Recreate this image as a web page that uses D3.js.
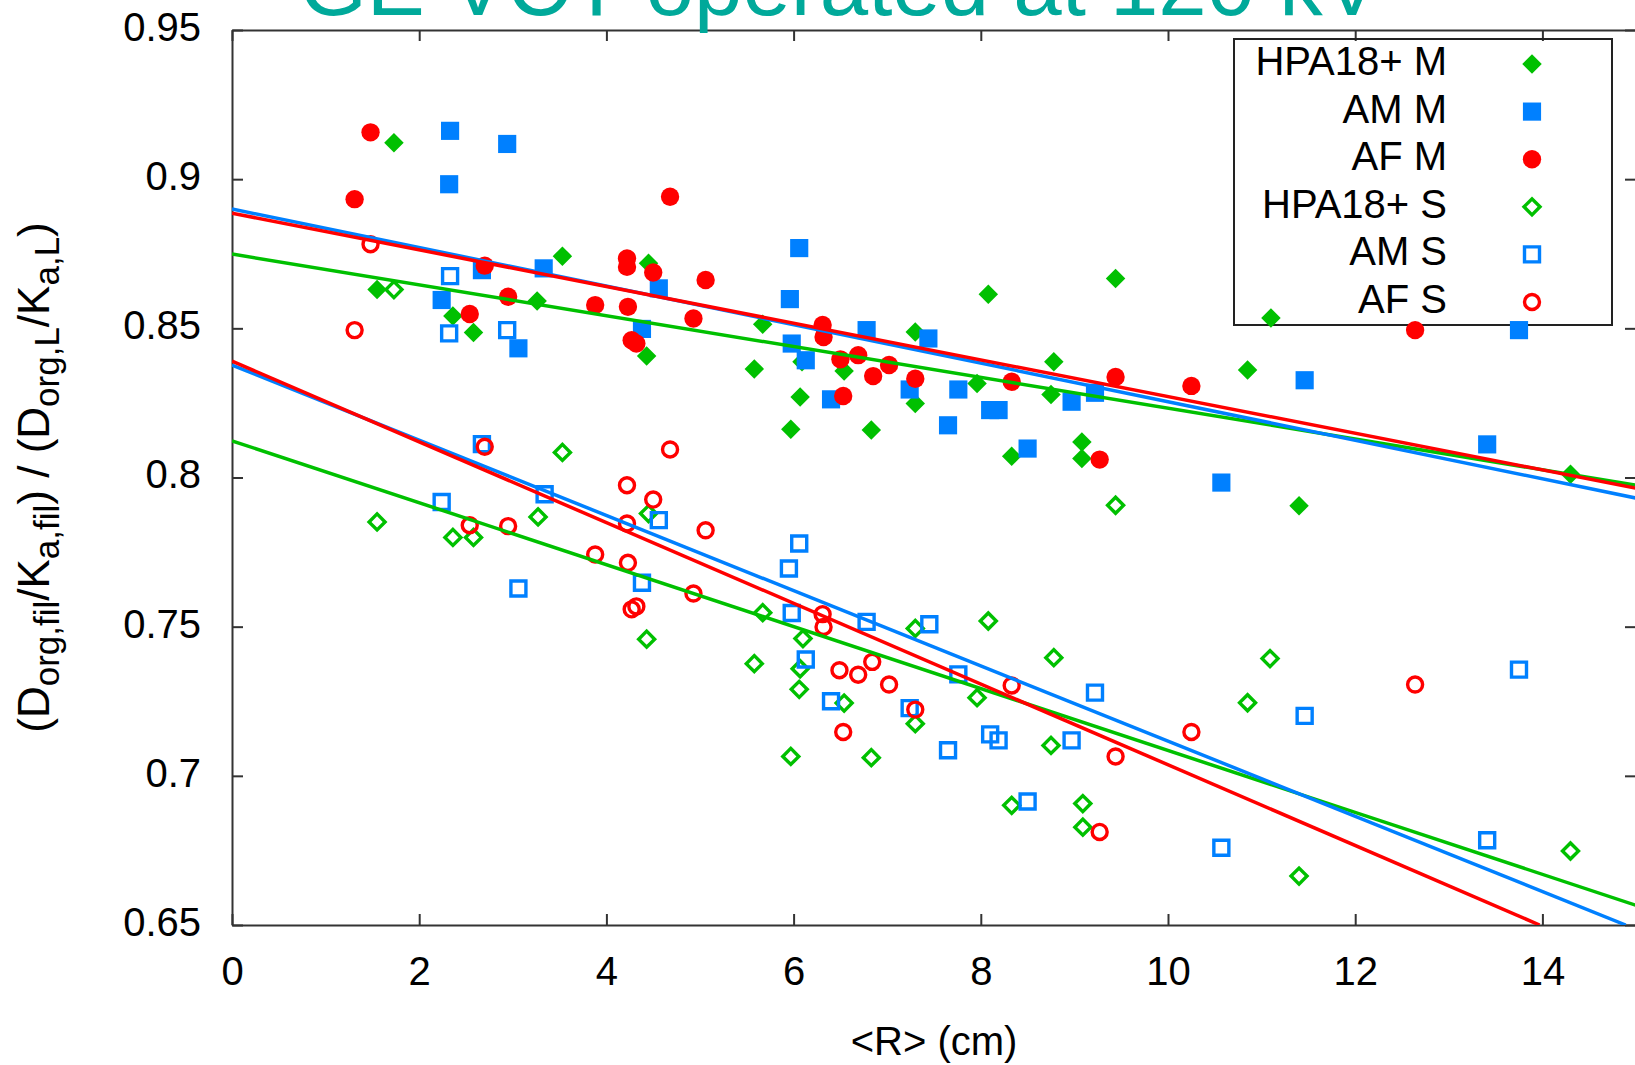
<!DOCTYPE html>
<html>
<head>
<meta charset="utf-8">
<script src="https://cdn.jsdelivr.net/npm/d3@7"></script>
<style>
  body { margin: 0; background: #fff; }
  text { font-family: "Liberation Sans", Arial, sans-serif; }
</style>
</head>
<body>
<div id="chart"></div>
<script>
/* global d3 */

// Data: [<R> in cm, dose ratio]
const xTicks = [0, 2, 4, 6, 8, 10, 12, 14]
const yTicks = [0.65, 0.7, 0.75, 0.8, 0.85, 0.9, 0.95]
const yTickLabels = ['0.65', '0.7', '0.75', '0.8', '0.85', '0.9', '0.95']
const seriesNames = ['HPA18+ M', 'AM M', 'AF M', 'HPA18+ S', 'AM S', 'AF S']

const hpaM = [
  [1.73, 0.9122], [1.55, 0.8630], [2.36, 0.8541], [2.58, 0.8486], [3.53, 0.8742],
  [3.26, 0.8592], [4.45, 0.8718], [4.43, 0.8407], [5.58, 0.8364], [5.67, 0.8514],
  [6.09, 0.8388], [6.07, 0.8270], [5.97, 0.8162], [6.54, 0.8357], [6.83, 0.8159],
  [7.30, 0.8488], [7.30, 0.8248], [7.96, 0.8315], [8.08, 0.8614], [8.33, 0.8071],
  [8.78, 0.8388], [8.75, 0.8278], [9.08, 0.8119], [9.08, 0.8064], [9.44, 0.8667],
  [10.85, 0.8360], [11.10, 0.8535], [11.40, 0.7905], [14.30, 0.8011]
]
const amM = [
  [2.33, 0.9162], [2.94, 0.9118], [2.32, 0.8983], [2.67, 0.8695], [3.33, 0.8701],
  [2.24, 0.8595], [3.06, 0.8433], [4.56, 0.8634], [4.38, 0.8498], [6.06, 0.8769],
  [5.96, 0.8598], [5.98, 0.8449], [6.13, 0.8393], [6.78, 0.8494], [7.44, 0.8466],
  [7.24, 0.8295], [7.76, 0.8295], [6.40, 0.8262], [7.65, 0.8175], [8.10, 0.8226],
  [8.19, 0.8226], [8.50, 0.8097], [8.97, 0.8254], [9.22, 0.8284], [10.57, 0.7983],
  [11.46, 0.8326], [13.41, 0.8111], [13.75, 0.8494]
]
const afM = [
  [1.48, 0.9157], [1.31, 0.8933], [4.68, 0.8941], [2.70, 0.8710], [4.22, 0.8734],
  [4.22, 0.8706], [4.50, 0.8687], [5.06, 0.8662], [2.95, 0.8606], [3.88, 0.8578],
  [4.23, 0.8572], [4.93, 0.8533], [2.54, 0.8548], [4.27, 0.8460], [4.32, 0.8449],
  [6.31, 0.8511], [6.32, 0.8471], [6.50, 0.8396], [6.69, 0.8410], [6.85, 0.8340],
  [7.02, 0.8377], [7.30, 0.8331], [6.53, 0.8273], [8.33, 0.8321], [9.44, 0.8337],
  [10.25, 0.8307], [9.27, 0.8060], [12.64, 0.8494]
]
const hpaS = [
  [1.73, 0.8630], [1.55, 0.7851], [2.36, 0.7799], [2.58, 0.7799], [3.53, 0.8084],
  [3.27, 0.7868], [4.45, 0.7879], [4.43, 0.7458], [5.67, 0.7547], [6.10, 0.7460],
  [6.07, 0.7359], [6.06, 0.7290], [5.58, 0.7376], [5.97, 0.7065], [6.54, 0.7244],
  [6.83, 0.7061], [7.30, 0.7494], [7.30, 0.7175], [7.96, 0.7262], [8.08, 0.7519],
  [8.33, 0.6901], [8.78, 0.7396], [8.75, 0.7102], [9.09, 0.6907], [9.09, 0.6828],
  [9.44, 0.7907], [10.85, 0.7245], [11.09, 0.7393], [11.40, 0.6664], [14.30, 0.6748]
]
const amS = [
  [2.33, 0.8675], [2.32, 0.8483], [2.94, 0.8494], [2.67, 0.8112], [3.34, 0.7944],
  [2.24, 0.7918], [3.06, 0.7628], [4.56, 0.7857], [4.38, 0.7647], [6.06, 0.7779],
  [5.95, 0.7695], [5.98, 0.7546], [6.13, 0.7390], [6.40, 0.7250], [6.78, 0.7516],
  [7.45, 0.7508], [7.24, 0.7227], [7.76, 0.7340], [7.65, 0.7086], [8.10, 0.7139],
  [8.19, 0.7119], [8.50, 0.6914], [8.97, 0.7119], [9.22, 0.7279], [10.57, 0.6759],
  [11.46, 0.7201], [13.41, 0.6784], [13.75, 0.7356]
]
const afS = [
  [1.48, 0.8782], [1.31, 0.8494], [4.68, 0.8094], [2.70, 0.8103], [4.22, 0.7974],
  [4.22, 0.7846], [4.50, 0.7926], [5.06, 0.7823], [2.95, 0.7837], [3.88, 0.7742],
  [4.23, 0.7714], [4.93, 0.7611], [2.54, 0.7840], [4.27, 0.7558], [4.32, 0.7568],
  [6.31, 0.7542], [6.32, 0.7499], [6.49, 0.7354], [6.69, 0.7339], [6.84, 0.7382],
  [7.02, 0.7306], [7.30, 0.7222], [6.53, 0.7147], [8.33, 0.7303], [9.44, 0.7065],
  [10.25, 0.7147], [9.27, 0.6812], [12.64, 0.7306]
]

// straight-line fits, as end points
const fitHpaM = [[0, 0.8749], [15, 0.7974]]
const fitAmM = [[0, 0.8900], [15, 0.7931]]
const fitAfM = [[0, 0.8886], [15, 0.7964]]
const fitHpaS = [[0, 0.8123], [15, 0.6566]]
const fitAmS = [[0, 0.8377], [14.89, 0.65]]
const fitAfS = [[0, 0.8390], [13.97, 0.65]]

// Our canvas
const width = 1635,
  height = 1065

const green = '#00c000',
  blue = '#0080ff',
  red = '#ff0000'

const svg = d3.select('#chart')
  .append('svg')
  .attr('width', width)
  .attr('height', height)

const x = d3.scaleLinear().domain([0, 15]).range([232, 1636])
const y = d3.scaleLinear().domain([0.65, 0.95]).range([925, 30])

svg.append('clipPath')
  .attr('id', 'plot')
  .append('rect')
  .attr('x', x(0))
  .attr('y', y(0.95))
  .attr('width', x(15) - x(0))
  .attr('height', y(0.65) - y(0.95))

// frame and ticks, ticks pointing inwards
const axisColor = '#333'
let styleAxis = g => {
  g.selectAll('path.domain').attr('stroke', axisColor).attr('stroke-width', 2)
  g.selectAll('.tick line').attr('stroke', axisColor).attr('stroke-width', 2)
  g.selectAll('text').attr('font-size', 40).attr('fill', '#000')
    .attr('font-family', '"Liberation Sans", Arial, sans-serif')
}

svg.append('g')
  .attr('transform', `translate(0,${y(0.65)})`)
  .call(d3.axisBottom(x).tickValues(xTicks).tickSize(-11).tickSizeOuter(0).tickPadding(31.6))
  .call(styleAxis)

svg.append('g')
  .attr('transform', `translate(0,${y(0.95)})`)
  .call(d3.axisTop(x).tickValues(xTicks).tickSize(-11).tickSizeOuter(0).tickFormat(''))
  .call(styleAxis)

svg.append('g')
  .attr('transform', `translate(${x(0)},0)`)
  .call(d3.axisLeft(y).tickValues(yTicks).tickSize(-11).tickSizeOuter(0).tickPadding(31)
    .tickFormat((d, i) => yTickLabels[i]))
  .call(styleAxis)
  .selectAll('text').attr('dy', '0.26em')

svg.append('g')
  .attr('transform', `translate(${x(15)},0)`)
  .call(d3.axisRight(y).tickValues(yTicks).tickSize(-11).tickSizeOuter(0).tickFormat(''))
  .call(styleAxis)

// key box (points are drawn on top of it)
svg.append('rect')
  .attr('x', 1234)
  .attr('y', 39)
  .attr('width', 378)
  .attr('height', 286)
  .attr('fill', 'none')
  .attr('stroke', '#222')
  .attr('stroke-width', 2)

// marker styles
const markers = [
  { data: hpaM, type: d3.symbolSquare, size: 190, rot: 45, color: green, filled: true },
  { data: amM, type: d3.symbolSquare, size: 330, rot: 0, color: blue, filled: true },
  { data: afM, type: d3.symbolCircle, size: 265, rot: 0, color: red, filled: true },
  { data: hpaS, type: d3.symbolSquare, size: 128, rot: 45, color: green, filled: false },
  { data: amS, type: d3.symbolSquare, size: 225, rot: 0, color: blue, filled: false },
  { data: afS, type: d3.symbolCircle, size: 177, rot: 0, color: red, filled: false }
]

let drawMarker = (sel, m) => {
  sel.attr('d', d3.symbol().type(m.type).size(m.size)())
    .attr('fill', m.filled ? m.color : 'none')
    .attr('stroke', m.filled ? 'none' : m.color)
    .attr('stroke-width', m.filled ? 0 : 3.4)
}

const plot = svg.append('g').attr('clip-path', 'url(#plot)')

markers.forEach(m => {
  plot.append('g')
    .selectAll('path')
    .data(m.data)
    .enter()
    .append('path')
    .attr('transform', d => `translate(${x(d[0])},${y(d[1])}) rotate(${m.rot})`)
    .call(drawMarker, m)
})

// fit lines
const line = d3.line().x(d => x(d[0])).y(d => y(d[1]))
const fits = [
  [fitHpaM, green], [fitAmM, blue], [fitAfM, red],
  [fitHpaS, green], [fitAmS, blue], [fitAfS, red]
]
fits.forEach(f => {
  plot.append('path')
    .attr('d', line(f[0]))
    .attr('fill', 'none')
    .attr('stroke', f[1])
    .attr('stroke-width', 3.5)
})

// key entries
seriesNames.forEach((name, i) => {
  svg.append('text')
    .attr('x', 1447)
    .attr('y', 75 + i * 47.6)
    .attr('text-anchor', 'end')
    .attr('font-size', 40)
    .text(name)
  svg.append('path')
    .attr('transform', `translate(1532,${64 + i * 47.6}) rotate(${markers[i].rot})`)
    .call(drawMarker, markers[i])
})

// title, mostly cut off at the top
svg.append('text')
  .attr('x', 840)
  .attr('y', 15)
  .attr('text-anchor', 'middle')
  .attr('font-size', 87)
  .attr('fill', '#00a99a')
  .text('GE VCT operated at 120 kV')

// axis titles
svg.append('text')
  .attr('x', (x(0) + x(15)) / 2)
  .attr('y', 1055)
  .attr('text-anchor', 'middle')
  .attr('font-size', 40)
  .text('<R> (cm)')

const yLabel = svg.append('text')
  .attr('transform', `translate(49,${(y(0.65) + y(0.95)) / 2}) rotate(-90)`)
  .attr('text-anchor', 'middle')
  .attr('font-size', 44)

const yLabelParts = [
  ['(D', 0], ['org,fil', 1], ['/K', 0], ['a,fil', 1], [') / (D', 0],
  ['org,L', 1], ['/K', 0], ['a,L', 1], [')', 0]
]
let shift = 0
yLabelParts.forEach(p => {
  const dy = p[1] ? 10 - shift : -shift
  shift = p[1] ? 10 : 0
  yLabel.append('tspan')
    .attr('dy', dy)
    .attr('font-size', p[1] ? 35 : 44)
    .text(p[0])
})
</script>
</body>
</html>
